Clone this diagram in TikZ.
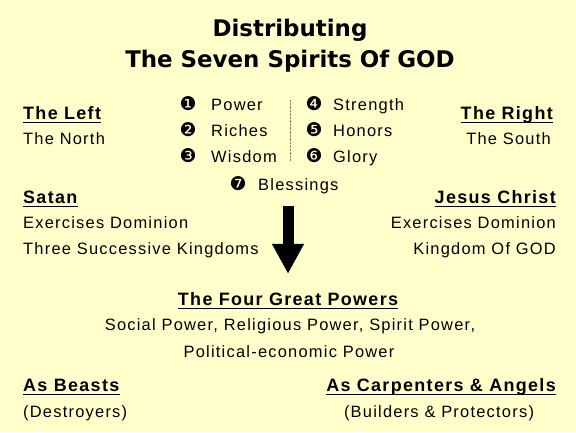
\documentclass[tikz,border=0pt]{standalone}
\usepackage{fontspec}
\usepackage{tikz}
\usetikzlibrary{arrows.meta}
\setmainfont{Liberation Sans}
\newfontfamily\bodyfont[LetterSpace=7.5]{Liberation Sans}
\newfontfamily\titlefont{DejaVu Sans}
\newfontfamily\dingfont{DejaVu Sans}
\definecolor{paper}{RGB}{255,255,204}

\begin{document}
\begin{tikzpicture}[x=1bp,y=-1bp,
  txt/.style={inner sep=0pt,font=\bodyfont\fontsize{16.5}{18}\selectfont},
  head/.style={inner sep=0pt,font=\bodyfont\bfseries\fontsize{18}{20}\selectfont},
  ttl/.style={inner sep=0pt,anchor=base,font=\titlefont\bfseries\fontsize{23}{26}\selectfont},
  num/.style={inner sep=0pt,anchor=base,font=\dingfont\fontsize{19}{21}\selectfont}]
\fill[paper] (0,0) rectangle (576,432);
\useasboundingbox (0,0) rectangle (576,432);
% title
\node[ttl] (t1) at (290,36) {Distributing};
\node[ttl] (t2) at (290,67) {The Seven Spirits Of GOD};
% left and right
\node[head,anchor=base west] (left) at (23,119) {The Left};
\node[txt,anchor=base west] (north) at (23,144) {The North};
\node[head,anchor=base east] (right) at (553,119) {The Right};
\node[txt,anchor=base east] (south) at (551,144) {The South};
% the seven spirits
\foreach \n/\s/\y in {1/Power/110,2/Riches/136,3/Wisdom/162}
  \node[txt,anchor=base west] (s\n) at (211,\y) {\s};
\foreach \n/\s/\y in {4/Strength/110,5/Honors/136,6/Glory/162}
  \node[txt,anchor=base west] (s\n) at (333,\y) {\s};
\foreach \n/\c/\x/\y in {1/❶/188/110,2/❷/188/136,3/❸/188/162,4/❹/314/110,5/❺/314/136,6/❻/314/162,7/❼/238/190}
  \node[num] (c\n) at (\x,\y) {\c};
\node[txt,anchor=base west] (s7) at (258,190) {Blessings};
\draw[gray,densely dotted] (290,100) -- (290,160);
% satan and jesus
\node[head,anchor=base west] (satan) at (23,203) {Satan};
\node[txt,anchor=base west] (dom1) at (23,228) {Exercises Dominion};
\node[txt,anchor=base west] (king1) at (23,254) {Three Successive Kingdoms};
\node[head,anchor=base east] (jesus) at (556,203) {Jesus Christ};
\node[txt,anchor=base east] (dom2) at (556,228) {Exercises Dominion};
\node[txt,anchor=base east] (king2) at (556,254) {Kingdom Of GOD};
% the four powers
\node[head,anchor=base] (four) at (288,305) {The Four Great Powers};
\node[txt,anchor=base] (pw1) at (290,330) {Social Power, Religious Power, Spirit Power,};
\node[txt,anchor=base] (pw2) at (289,357) {Political-economic Power};
\draw[line width=11bp,-{Triangle[width=30bp,length=30bp]},shorten <=12bp,shorten >=18bp]
  (s7.south -| four.north) -- (four.north);
% beasts and angels
\node[head,anchor=base west] (beasts) at (23,391) {As Beasts};
\node[txt,anchor=base west] (destr) at (23,417) {(Destroyers)};
\node[head,anchor=base east] (angels) at (556,391) {As Carpenters \& Angels};
\node[txt,anchor=base] (build) at (439,417) {(Builders \& Protectors)};
% underlines
\foreach \h in {left,right,satan,jesus,four,beasts,angels}
  \draw[line width=1.6bp] ([yshift=-3.5bp]\h.base west) -- ([yshift=-3.5bp]\h.base east);
\end{tikzpicture}
\end{document}
